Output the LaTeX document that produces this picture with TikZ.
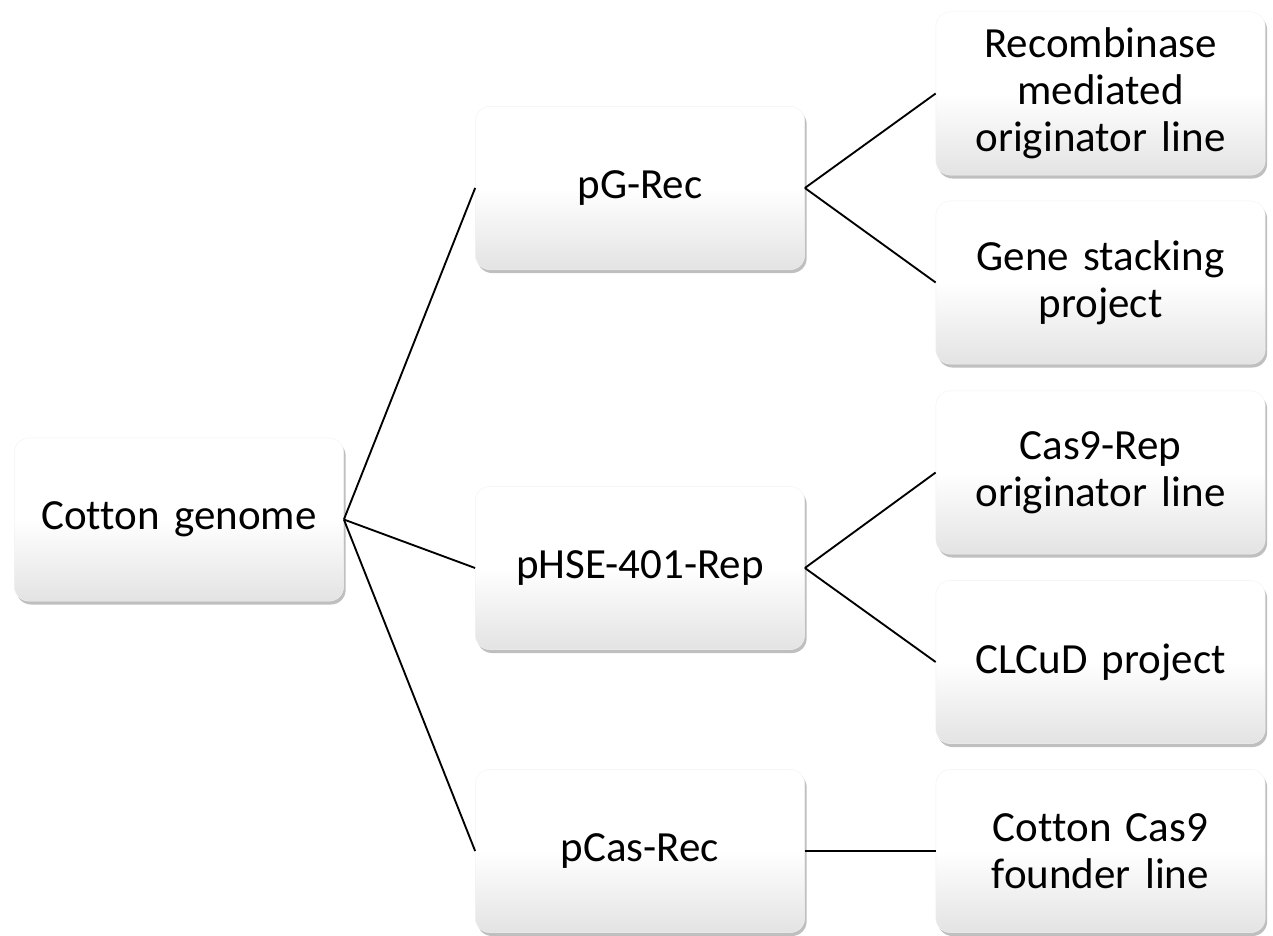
\documentclass[tikz,border=0pt]{standalone}
\usepackage{fontspec}
\setmainfont{Carlito}[Ligatures=NoCommon]
\usetikzlibrary{shadows}
\begin{document}
\begin{tikzpicture}[x=0.75pt,y=-0.75pt,
  box/.style={rectangle, rounded corners=11pt, draw=black!5, line width=0.3pt,
    top color=white, bottom color=black!11, middle color=white,
    minimum width=247pt, minimum height=122.5pt, inner sep=2pt,
    align=center, text width=240pt,
    font=\fontsize{32.25}{35.3}\selectfont,
    drop shadow={shadow xshift=1.5pt, shadow yshift=-2.5pt, opacity=0.25, fill=black}},
  conn/.style={draw=black, line width=1.4pt}]
\useasboundingbox (0,0) rectangle (1273,935);
\node[box] (cg) at (179,519.5) {Cotton genome};
\node[box] (pg) at (640,188) {pG-Rec};
\node[box] (phse) at (640,568) {pHSE-401-Rep};
\node[box] (pcas) at (640,851) {pCas-Rec};
\node[box] (rec) at (1100.5,93.5) {Recombinase\\mediated\\originator line};
\node[box] (gene) at (1100.5,282.5) {Gene stacking\\project};
\node[box] (cas9) at (1100.5,472.5) {Cas9-Rep\\originator line};
\node[box] (clcud) at (1100.5,662) {CLCuD project};
\node[box] (ccas) at (1100.5,851) {Cotton Cas9\\founder line};
\draw[conn] (cg.east) -- (pg.west);
\draw[conn] (cg.east) -- (phse.west);
\draw[conn] (cg.east) -- (pcas.west);
\draw[conn] (pg.east) -- (rec.west);
\draw[conn] (pg.east) -- (gene.west);
\draw[conn] (phse.east) -- (cas9.west);
\draw[conn] (phse.east) -- (clcud.west);
\draw[conn] (pcas.east) -- (ccas.west);
\end{tikzpicture}
\end{document}
